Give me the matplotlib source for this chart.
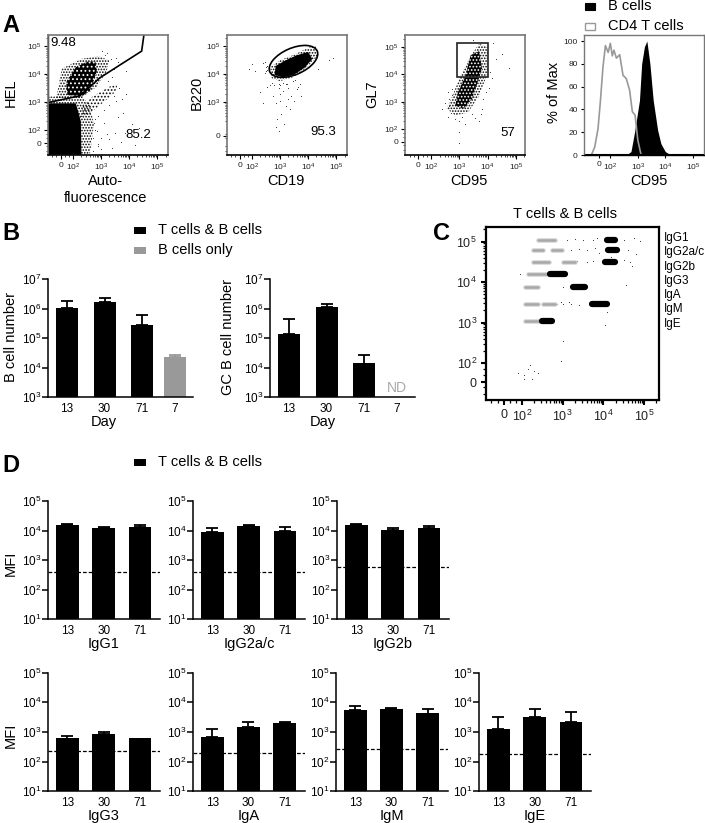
# Flow cytometry and MFI figure, panels A-D
import numpy as np
import matplotlib
matplotlib.use('Agg')
import matplotlib.pyplot as plt
from matplotlib.patches import Ellipse, Rectangle

plt.rcParams['font.family'] = ['Liberation Sans', 'DejaVu Sans']
plt.rcParams['mathtext.default'] = 'regular'
plt.rcParams['hatch.linewidth'] = 0.8

W, H = 705, 823

# ---- panel A, values are log10 of intensity
hel_core_x = [1.1, 2.3, 2.28, 2.2, 2.1, 1.1]
hel_core_y = [1.1, 1.1, 2.3, 2.6, 2.95, 2.95]
hel_mid_x = [1.1, 2.6, 2.75, 2.6, 2.3, 1.1]
hel_mid_y = [1.1, 1.1, 2.2, 2.9, 3.2, 3.2]
hel_up_core_x = [1.8, 2.3, 2.6, 2.85, 2.8, 2.5, 2.1, 1.75]
hel_up_core_y = [3.25, 3.2, 3.4, 4.1, 4.45, 4.45, 4.25, 3.7]
hel_up_mid_x = [1.4, 2.3, 2.85, 3.2, 3.3, 2.9, 2.3, 1.6]
hel_up_mid_y = [3.15, 3.15, 3.55, 4.1, 4.5, 4.65, 4.55, 4.2]
hel_streak_x = [2.25, 2.55, 3.1, 3.5, 3.6, 3.3, 2.7, 2.35]
hel_streak_y = [2.45, 2.55, 3.0, 3.35, 3.65, 3.55, 3.2, 2.85]
hel_gate_x = [1.12, 1.12, 2.24, 2.96, 4.45, 4.53]
hel_gate_y = [5.41, 2.98, 3.22, 3.87, 4.83, 5.41]
hel_spk_x = [3.0, 3.4, 3.6, 3.85, 4.1, 4.2, 3.2, 2.8, 2.9, 3.1, 3.3, 3.5, 2.7, 3.7, 2.6, 3.8,
             3.4, 3.6, 3.9, 2.75, 2.85, 2.9, 3.1, 3.0, 3.3, 3.55, 3.25, 2.8, 2.9, 2.7, 3.45, 3.2, 3.9, 4.35,
             3.35, 3.55, 3.7, 3.75, 3.45, 3.65, 3.15, 3.05]
hel_spk_y = [1.3, 1.35, 2.45, 1.9, 2.2, 1.45, 1.85, 2.0, 1.5, 2.25, 1.65, 1.9, 1.25, 1.55, 1.6, 2.6,
             3.9, 4.45, 4.1, 2.25, 1.95, 2.5, 2.7, 1.7, 2.9, 3.05, 3.75, 2.4, 1.4, 1.7, 4.2, 4.75, 3.3, 2.05,
             4.55, 4.6, 4.4, 3.1, 3.2, 3.5, 4.7, 4.85]

b220_x = [2.7, 2.65, 3.0, 3.5, 4.0, 4.3, 4.35, 3.9, 3.5, 3.0]
b220_y = [3.85, 4.25, 4.5, 4.7, 4.95, 5.0, 4.65, 4.2, 3.9, 3.75]
b220_core_x = [2.8, 2.85, 3.2, 3.6, 4.0, 4.15, 3.9, 3.5, 3.1]
b220_core_y = [3.98, 4.3, 4.5, 4.68, 4.8, 4.55, 4.25, 3.98, 3.88]
b220_spk_x = [1.9, 2.0, 2.1, 2.45, 2.5, 2.6, 2.7, 2.45, 2.55, 2.5, 2.55, 2.4, 2.95, 3.0, 3.1, 3.2,
              3.3, 3.4, 3.5, 3.6, 3.7, 3.75, 2.75, 2.85, 3.0, 3.2, 3.35, 2.4, 2.3, 3.05, 2.95, 3.15,
              2.9, 2.85, 4.75, 4.9, 4.35, 3.55, 3.3, 3.0, 2.65, 2.55, 2.8, 3.25, 3.45, 2.95, 3.1, 3.65]
b220_spk_y = [4.2, 4.35, 4.1, 4.45, 4.25, 4.2, 3.7, 4.05, 4.15, 4.1, 4.3, 4.4, 3.65, 3.6, 3.4, 3.65,
              3.5, 3.2, 3.05, 3.45, 3.65, 3.2, 3.2, 2.95, 3.05, 2.85, 2.75, 2.95, 3.35, 2.55, 1.95, 2.2,
              2.4, 2.1, 4.5, 4.6, 4.2, 3.8, 3.1, 3.3, 3.6, 3.55, 3.6, 3.65, 3.75, 3.5, 3.7, 3.55]

gl7_x = [2.55, 2.75, 3.0, 3.35, 3.7, 4.0, 4.0, 3.7, 3.3, 2.85]
gl7_y = [2.75, 3.2, 3.85, 4.6, 5.12, 5.0, 4.05, 3.2, 2.6, 2.5]
gl7_core_x = [2.85, 2.95, 3.2, 3.4, 3.7, 3.8, 3.45, 3.15]
gl7_core_y = [2.85, 3.35, 3.9, 4.7, 4.85, 4.2, 3.1, 2.75]
gl7_gate_x = [2.91, 4.0]
gl7_gate_y = [3.9, 5.16]
gl7_spk_x = [2.6, 2.4, 2.7, 2.5, 2.65, 3.0, 3.0, 3.0, 3.1, 3.75, 3.85, 4.1, 4.3, 4.75, 4.2, 2.85,
             2.75, 3.5, 3.55, 3.7, 4.05, 4.15, 2.6, 2.75, 3.2, 3.45, 3.8, 3.95, 4.5, 2.65]
gl7_spk_y = [2.45, 2.75, 2.6, 2.95, 3.1, 2.3, 1.9, 1.5, 2.45, 2.55, 3.1, 4.1, 4.55, 4.25, 5.15, 2.35,
             3.25, 5.25, 2.4, 2.3, 3.5, 3.85, 3.35, 3.45, 2.2, 2.55, 2.75, 3.35, 4.75, 2.85]

# histogram, x in log10 units, y in % of max
cd4_x = [1.31, 1.43, 1.55, 1.64, 1.73, 1.82, 1.92, 2.0, 2.07, 2.13, 2.22, 2.34, 2.46, 2.58, 2.7, 2.8, 2.9, 3.0, 3.12]
cd4_y = [0, 7, 23, 48, 77, 96, 90, 98, 87, 92, 85, 88, 70, 67, 57, 38, 35, 13, 0]
bcell_x = [2.58, 2.75, 2.88, 3.06, 3.14, 3.24, 3.33, 3.44, 3.56, 3.72, 3.84, 4.0, 4.2]
bcell_y = [0, 3, 20, 48, 80, 95, 100, 80, 48, 22, 10, 3, 0]

# ---- panel B
days_b = ['13', '30', '71', '7']
b_number = [1.05e6, 1.6e6, 2.8e5, 2.2e4]
b_number_top = [1.8e6, 2.3e6, 5.8e5, 2.6e4]
gc_number = [1.39e5, 1.1e6, 1.27e4]
gc_number_top = [4.4e5, 1.47e6, 2.7e4]

# ---- panel C, log10 positions of the bead clusters
isotypes = ['IgG1', 'IgG2a/c', 'IgG2b', 'IgG3', 'IgA', 'IgM', 'IgE']
row_y = [5.05, 4.8, 4.5, 4.19, 3.87, 3.46, 3.04]
gray_start = [[2.4], [2.26, 2.73], [2.26, 3.0], [2.15], [2.07], [2.07, 2.51], [2.07]]
gray_end = [[2.8], [2.52, 2.98], [2.66, 3.3], [2.65], [2.4], [2.4, 2.82], [2.45]]
black_start = [4.08, 4.12, 4.04, 2.7, 3.26, 3.72, 2.5]
black_end = [4.3, 4.34, 4.28, 3.05, 3.54, 4.1, 2.75]
c_spk_x = [1.9, 2.05, 2.15, 2.2, 2.3, 2.4, 2.05, 2.25, 3.0, 2.95, 3.1, 3.3, 3.5, 3.75, 3.85, 4.5,
           4.75, 4.9, 3.2, 3.4, 3.6, 3.8, 3.9, 4.6, 4.8, 3.6, 3.75, 4.5, 4.65, 4.7, 3.35, 3.0, 3.15,
           3.0, 3.4, 4.1, 4.05, 1.95, 2.85, 2.95, 3.2, 4.55, 4.2]
c_spk_y = [1.75, 1.7, 1.85, 1.95, 1.8, 1.75, 1.6, 1.6, 2.55, 2.05, 5.05, 5.06, 5.05, 5.03, 5.1, 5.05,
           5.1, 5.02, 4.8, 4.82, 4.78, 4.85, 4.72, 4.78, 4.7, 4.5, 4.52, 4.55, 4.5, 4.4, 4.52, 3.46, 3.5,
           3.87, 3.44, 3.25, 2.95, 4.2, 3.45, 3.5, 3.46, 3.93, 4.62]

# ---- panel D, one list per isotype
days = ['13', '30', '71']
mfi_top_names = ['IgG1', 'IgG2a/c', 'IgG2b']
mfi_top = [[1.5e4, 1.18e4, 1.28e4], [8.7e3, 1.38e4, 9.4e3], [1.55e4, 1.07e4, 1.18e4]]
mfi_top_err = [[1.66e4, 1.35e4, 1.58e4], [1.26e4, 1.55e4, 1.33e4], [1.7e4, 1.26e4, 1.45e4]]
mfi_top_cut = [380, 380, 575]
mfi_bot_names = ['IgG3', 'IgA', 'IgM', 'IgE']
mfi_bot = [[600, 830, 600], [660, 1520, 1950], [5640, 5800, 4200], [1230, 3100, 2130]]
mfi_bot_err = [[760, 980, 600], [1300, 2130, 2250], [7500, 6600, 6000], [3100, 5800, 4700]]
mfi_bot_cut = [225, 190, 270, 182]

fig = plt.figure(figsize=(W / 100, H / 100), dpi=100)


def box(l, t, r, b):
    return fig.add_axes([l / W, 1 - b / H, (r - l) / W, (b - t) / H])


def txt(x, y, s, size=10.5, ha='center', **kw):
    fig.text(x / W, 1 - y / H, s, fontsize=size, ha=ha, va='center', **kw)


def dec(n):
    return r'$10^{%d}$' % n


def flow_axes(l, t, r, b, xlim, ylim, xt, yt, xzero, yzero, size=6, frame='#777777', lw=1.2):
    ax = box(l, t, r, b)
    ax.set_xlim(xlim)
    ax.set_ylim(ylim)
    for s in ax.spines.values():
        s.set_color(frame)
        s.set_linewidth(lw)
    ax.spines['bottom'].set_color('k')
    ax.set_xticks([xzero] + xt)
    ax.set_xticklabels(['0'] + [dec(n) for n in xt], fontsize=size, color='#222222')
    ax.set_yticks(([yzero] if yzero else []) + yt)
    ax.set_yticklabels((['0'] if yzero else []) + [dec(n) for n in yt], fontsize=size, color='#222222')
    minor = [k + np.log10(m) for k in range(2, 6) for m in range(2, 10)]
    ax.set_xticks([m for m in minor if m < xlim[1]] + [1.25, 1.4, 1.7, 1.85], minor=True)
    ax.set_yticks([m for m in minor if m < ylim[1]] + [1.25, 1.4, 1.7, 1.85], minor=True)
    ax.tick_params(which='major', length=3, width=0.8, pad=2)
    ax.tick_params(which='minor', length=1.5, width=0.5)
    return ax


def cloud(ax, x, y, hatch):
    ax.fill(x, y, facecolor='none', edgecolor='k', hatch=hatch, lw=0)


# black with small white holes, for the dense part of a cloud
def dark_cloud(ax, x, y, hatch):
    ax.fill(x, y, facecolor='k', edgecolor='w', hatch=hatch, lw=0)


def specks(ax, x, y):
    ax.scatter(x, y, s=0.4, color='#222222', lw=0)


def bars(ax, x, vals, tops, width, colors, base):
    ax.bar(x, vals, width=width, bottom=base, color=colors)
    for xi, v, t, c in zip(x, vals, tops, colors):
        if t > v:
            ax.errorbar(xi, v, yerr=[[0], [t - v]], color=c, capsize=4.1, elinewidth=1.3, capthick=1.3)


def bar_axes(ax, ymin, ymax, labels, x, size=8.5, tick=8.5):
    ax.set_yscale('log')
    ax.set_ylim(ymin, ymax)
    ax.yaxis.set_major_locator(matplotlib.ticker.LogLocator(base=10, numticks=10))
    ax.yaxis.set_minor_locator(matplotlib.ticker.NullLocator())
    ax.yaxis.set_major_formatter(matplotlib.ticker.FuncFormatter(lambda v, p: dec(round(np.log10(v)))))
    ax.spines['top'].set_visible(False)
    ax.spines['right'].set_visible(False)
    ax.spines['left'].set_linewidth(1.1)
    ax.spines['bottom'].set_linewidth(1.1)
    ax.set_xticks(x)
    ax.set_xticklabels(labels, fontsize=size)
    ax.tick_params(axis='x', length=0, pad=4)
    ax.tick_params(axis='y', length=4, width=1.1, pad=0.5, labelsize=tick)
    ax.patch.set_alpha(0)


# ---- A
ax = flow_axes(48, 35, 168, 155, (1.107, 5.39), (1.09, 5.41), [2, 3, 4, 5], [2, 3, 4, 5], 1.57, 1.52)
cloud(ax, hel_mid_x, hel_mid_y, '......')
cloud(ax, hel_up_mid_x, hel_up_mid_y, '......')
cloud(ax, hel_streak_x, hel_streak_y, '.....')
dark_cloud(ax, hel_up_core_x, hel_up_core_y, '....')
ax.fill(hel_core_x, hel_core_y, 'k', lw=0)
specks(ax, hel_spk_x, hel_spk_y)
ax.plot(hel_gate_x, hel_gate_y, 'k', lw=1.2)

ax = flow_axes(227, 35, 347, 155, (1.107, 5.39), (1.09, 5.41), [2, 3, 4, 5], [3, 4, 5], 1.57, 1.78)
cloud(ax, b220_x, b220_y, '......')
ax.fill(b220_core_x, b220_core_y, 'k', lw=0)
specks(ax, b220_spk_x, b220_spk_y)
ax.add_patch(Ellipse((3.48, 4.46), 1.85, 0.95, angle=24, fc='none', ec='k', lw=1.2))

ax = flow_axes(405, 35, 525, 155, (1.08, 5.32), (1.05, 5.44), [2, 3, 4, 5], [2, 3, 4, 5], 1.55, 1.54)
cloud(ax, gl7_x, gl7_y, '......')
dark_cloud(ax, gl7_core_x, gl7_core_y, '.....')
specks(ax, gl7_spk_x, gl7_spk_y)
ax.add_patch(Rectangle((gl7_gate_x[0], gl7_gate_y[0]), gl7_gate_x[1] - gl7_gate_x[0],
                       gl7_gate_y[1] - gl7_gate_y[0], fc='none', ec='#222222', lw=1.2))

ax = box(584, 35, 704, 155)
ax.set_xlim(1.04, 5.41)
ax.set_ylim(0, 105.3)
ax.fill_between(bcell_x, bcell_y, color='k', lw=0)
ax.plot(cd4_x, cd4_y, color='#999999', lw=1.2)
ax.plot([1.04, 5.41], [0, 0], color='k', lw=1.5)
for s in ax.spines.values():
    s.set_color('#777777')
    s.set_linewidth(1.0)
ax.spines['bottom'].set_color('k')
ax.set_xticks([1.57, 2, 3, 4, 5])
ax.set_xticklabels(['0', dec(2), dec(3), dec(4), dec(5)], fontsize=6, color='#222222')
ax.set_yticks([0, 20, 40, 60, 80, 100])
ax.set_yticklabels(['0', '20', '40', '60', '80', '100'], fontsize=6, color='#222222')
ax.tick_params(length=2.5, width=0.8, pad=2)

txt(2, 25, 'A', 17, ha='left', fontweight='bold')
txt(11, 93, 'HEL', rotation=90)
txt(106, 181, 'Auto-')
txt(106, 198, 'fluorescence')
txt(197, 93, 'B220', rotation=90)
txt(286, 181, 'CD19')
txt(372, 94, 'GL7', rotation=90)
txt(469, 181, 'CD95')
txt(554, 92, '% of Max', rotation=90)
txt(649, 181, 'CD95')
txt(50, 43, '9.48', 9.5, ha='left')
txt(138, 135, '85.2', 9.5)
txt(323, 132, '95.3', 9.5)
txt(508, 133, '57', 9.5)
fig.patches.append(Rectangle((585 / W, 1 - 9.5 / H), 10 / W, 7 / H, fc='k', ec='k', lw=0.8, transform=fig.transFigure))
fig.patches.append(Rectangle((585 / W, 1 - 29.5 / H), 10 / W, 7 / H, fc='w', ec='#999999', lw=1.0, transform=fig.transFigure))
txt(608, 6, 'B cells', ha='left')
txt(608, 26, 'CD4 T cells', ha='left')

# ---- B
ax = box(48, 279, 193, 397)
xb = [0, 1, 2, 2.88]
bars(ax, xb, b_number, b_number_top, 0.587, ['k', 'k', 'k', '#999999'], 1e3)
ax.set_xlim(-0.507, 3.36)
bar_axes(ax, 1e3, 1e7, days_b, xb)

ax = box(270, 279, 415, 397)
bars(ax, xb[:3], gc_number, gc_number_top, 0.587, ['k', 'k', 'k'], 1e3)
ax.set_xlim(-0.507, 3.36)
bar_axes(ax, 1e3, 1e7, days_b, xb)
txt(397, 388, 'ND', 10, color='#aaaaaa')

txt(2, 233, 'B', 17, ha='left', fontweight='bold')
txt(11, 337, 'B cell number', rotation=90)
txt(228, 337, 'GC B cell number', rotation=90)
txt(104, 422, 'Day')
txt(323, 422, 'Day')
for y, c, s in [(230, 'k', 'T cells & B cells'), (250, '#999999', 'B cells only')]:
    fig.patches.append(Rectangle((134 / W, 1 - (y + 3.5) / H), 12 / W, 7 / H, fc=c, lw=0, transform=fig.transFigure))
    txt(158, y, s, ha='left')

# ---- C
ax = flow_axes(486, 227, 659, 400, (1.115, 5.37), (1.09, 5.36), [2, 3, 4, 5], [2, 3, 4, 5], 1.56, 1.53,
               size=9, frame='k', lw=1.6)
ax.tick_params(which='major', length=3.5, width=1.5, pad=3)
ax.tick_params(which='minor', length=2, width=0.9)
for y, g0, g1 in zip(row_y, gray_start, gray_end):
    for a, b in zip(g0, g1):
        ax.plot([a, b], [y, y], color='#d8d8d8', lw=3.4, solid_capstyle='round')
        ax.plot([a, b], [y, y], color='#a8a8a8', lw=1.8, solid_capstyle='round')
specks(ax, c_spk_x, c_spk_y)
for y, a, b in zip(row_y, black_start, black_end):
    ax.plot([a, b], [y, y], color='k', lw=4.5, solid_capstyle='round')
txt(433, 233, 'C', 17, ha='left', fontweight='bold')
txt(565, 214, 'T cells & B cells')
for y, s in zip([238, 252, 267, 281, 295, 309, 324], isotypes):
    txt(664, y, s, 8.5, ha='left')

# ---- D
xd = [0, 1, 2]
for l, name, v, e, cut in zip([48, 193, 337], mfi_top_names, mfi_top, mfi_top_err, mfi_top_cut):
    ax = box(l, 501, l + 112, 619)
    bars(ax, xd, v, e, 0.63, ['k', 'k', 'k'], 10)
    ax.axhline(cut, color='k', lw=0.9, ls=(0, (3, 1.6)))
    ax.set_xlim(-0.537, 2.55)
    bar_axes(ax, 10, 1e5, days, xd)
    txt(l + 56, 644, name)

for l, name, v, e, cut in zip([48, 192.7, 335.7, 479], mfi_bot_names, mfi_bot, mfi_bot_err, mfi_bot_cut):
    ax = box(l, 672.7, l + 112, 791.3)
    bars(ax, xd, v, e, 0.63, ['k', 'k', 'k'], 10)
    ax.axhline(cut, color='k', lw=0.9, ls=(0, (3, 1.6)))
    ax.set_xlim(-0.537, 2.55)
    bar_axes(ax, 10, 1e5, days, xd)
    txt(l + 56, 816, name)

txt(2, 465, 'D', 17, ha='left', fontweight='bold')
txt(11, 563, 'MFI', rotation=90)
txt(11, 735, 'MFI', rotation=90)
fig.patches.append(Rectangle((134 / W, 1 - 465.5 / H), 12 / W, 7 / H, fc='k', lw=0, transform=fig.transFigure))
txt(158, 462, 'T cells & B cells', ha='left')

fig.savefig('out.png', dpi=100)
